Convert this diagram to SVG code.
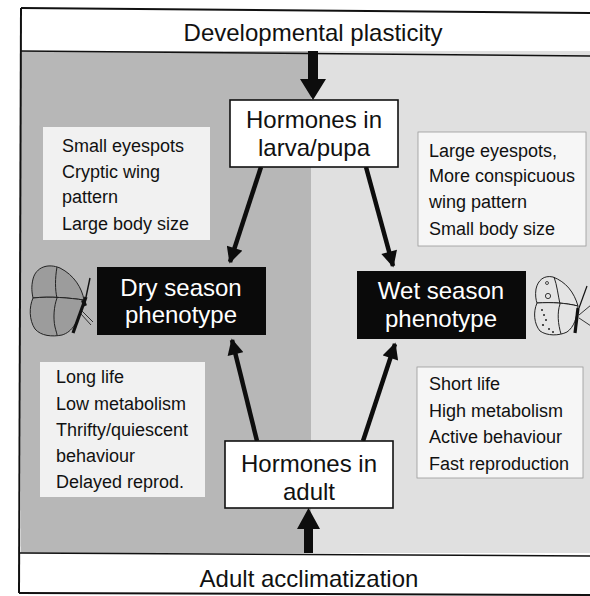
<svg xmlns="http://www.w3.org/2000/svg" width="590" height="596" viewBox="0 0 590 596">
  <defs>
    <style>
      .lbl { font-family: "Liberation Sans", Arial, Helvetica, sans-serif; fill: #111; }
      .band { font-size: 24px; text-anchor: middle; }
      .hub { font-size: 24px; text-anchor: middle; }
      .pheno { font-size: 24px; text-anchor: middle; fill: #fff; }
      .trait { font-size: 18px; }
      .hubbox { fill: #fff; stroke: #111; stroke-width: 1.6; }
      .phenobox { fill: #0a0a0a; }
      .infoL { fill: #f1f1f1; }
      .infoR { fill: #f6f6f6; stroke: #9a9a9a; stroke-width: 0.8; }
      .conn { stroke: #0d0d0d; stroke-width: 4.5; fill: none; }
      .wing { stroke: #222; stroke-width: 1; }
      .vein { stroke: #222; stroke-width: 1; fill: none; }
    </style>
    <marker id="head" viewBox="0 0 10 10" refX="9" refY="5" markerWidth="4" markerHeight="3.6" orient="auto" markerUnits="strokeWidth">
      <path d="M0,0 L10,5 L0,10 Z" fill="#0d0d0d"/>
    </marker>
  </defs>

  <!-- paper -->
  <rect x="0" y="0" width="590" height="596" fill="#fff"/>

  <!-- shaded middle field: darker dry side, lighter wet side -->
  <rect x="21" y="51" width="290" height="502" fill="#b7b7b7"/>
  <rect x="311" y="51" width="285" height="502" fill="#e0e0e0"/>

  <!-- frame -->
  <g fill="none" stroke="#111">
    <path d="M21,8 L596,13" stroke-width="2"/>
    <path d="M21,51 L596,56" stroke-width="1.6"/>
    <path d="M20,553 L596,556" stroke-width="1.6"/>
    <path d="M19,593 L596,595" stroke-width="2"/>
    <path d="M21,8 L19,593" stroke-width="2"/>
  </g>

  <!-- band labels -->
  <text class="lbl band" x="313" y="41">Developmental plasticity</text>
  <text class="lbl band" x="309" y="587">Adult acclimatization</text>

  <!-- trait boxes -->
  <g id="dry-morph-traits">
    <rect class="infoL" x="43" y="127" width="167" height="113"/>
    <text class="lbl trait" x="62" y="152">Small eyespots</text>
    <text class="lbl trait" x="62" y="178">Cryptic wing</text>
    <text class="lbl trait" x="62" y="203">pattern</text>
    <text class="lbl trait" x="62" y="230">Large body size</text>
  </g>
  <g id="wet-morph-traits">
    <rect class="infoR" x="418" y="132" width="168" height="114"/>
    <text class="lbl trait" x="429" y="157">Large eyespots,</text>
    <text class="lbl trait" x="429" y="182">More conspicuous</text>
    <text class="lbl trait" x="429" y="208">wing pattern</text>
    <text class="lbl trait" x="429" y="235">Small body size</text>
  </g>
  <g id="dry-physiology">
    <rect class="infoL" x="40" y="362" width="165" height="135"/>
    <text class="lbl trait" x="56" y="383">Long life</text>
    <text class="lbl trait" x="56" y="410">Low metabolism</text>
    <text class="lbl trait" x="56" y="436">Thrifty/quiescent</text>
    <text class="lbl trait" x="56" y="462">behaviour</text>
    <text class="lbl trait" x="56" y="488">Delayed reprod.</text>
  </g>
  <g id="wet-physiology">
    <rect class="infoR" x="417" y="367" width="166" height="111"/>
    <text class="lbl trait" x="429" y="390">Short life</text>
    <text class="lbl trait" x="429" y="417">High metabolism</text>
    <text class="lbl trait" x="429" y="443">Active behaviour</text>
    <text class="lbl trait" x="429" y="470">Fast reproduction</text>
  </g>

  <!-- connectors -->
  <g id="connectors">
    <!-- broad input arrows from the bands -->
    <path d="M308,51 L318,51 L318,79 L326,79 L313,100 L300,79 L308,79 Z" fill="#0d0d0d"/>
    <path d="M304,553 L313,553 L313,529 L320,529 L308.5,508 L297,529 L304,529 Z" fill="#0d0d0d"/>
    <!-- hormone to phenotype arrows -->
    <line class="conn" x1="261" y1="167" x2="230" y2="262" marker-end="url(#head)"/>
    <line class="conn" x1="366" y1="167" x2="393" y2="266" marker-end="url(#head)"/>
    <line class="conn" x1="257" y1="441" x2="232" y2="340" marker-end="url(#head)"/>
    <line class="conn" x1="363" y1="441" x2="395" y2="344" marker-end="url(#head)"/>
  </g>

  <!-- nodes -->
  <g id="hormones-larva">
    <rect class="hubbox" x="230" y="100" width="168" height="67"/>
    <text class="lbl hub" x="314" y="128">Hormones in</text>
    <text class="lbl hub" x="314" y="156">larva/pupa</text>
  </g>
  <g id="hormones-adult">
    <rect class="hubbox" x="225" y="441" width="168" height="67"/>
    <text class="lbl hub" x="309" y="472">Hormones in</text>
    <text class="lbl hub" x="309" y="500">adult</text>
  </g>
  <g id="dry-phenotype">
    <rect class="phenobox" x="97" y="267" width="169" height="68"/>
    <text class="lbl pheno" x="181" y="296">Dry season</text>
    <text class="lbl pheno" x="181" y="323">phenotype</text>
  </g>
  <g id="wet-phenotype">
    <rect class="phenobox" x="357" y="271" width="169" height="68"/>
    <text class="lbl pheno" x="441" y="299">Wet season</text>
    <text class="lbl pheno" x="441" y="327">phenotype</text>
  </g>

  <!-- dry-season butterfly, wings closed -->
  <g id="dry-butterfly">
    <path class="wing" fill="#9c9c9c" d="M84,300 C82,288 74,275 60,268 C48,263 36,267 33,279 C31,287 32,293 33,298 C50,296 70,298 84,300 Z"/>
    <path class="wing" fill="#9c9c9c" d="M33,298 C29,307 29,320 35,329 C41,336 52,337 62,335 C72,332 79,322 84,300 C70,298 50,296 33,298 Z"/>
    <path class="vein" d="M57,267 C55,278 55,290 57,298 C54,306 53,318 55,327 C56,331 57,334 57,335"/>
    <path d="M86,297 L73,333" stroke="#111" stroke-width="3.2" fill="none"/>
    <path d="M86,297 L90,278" stroke="#111" stroke-width="1.4" fill="none"/>
    <path d="M82,311 L93,322 M81,314 L91,325" stroke="#222" stroke-width="0.9" fill="none"/>
    <path d="M83,300 L85,306" stroke="#111" stroke-width="4" fill="none"/>
  </g>

  <!-- wet-season butterfly, with eyespots -->
  <g id="wet-butterfly">
    <path class="wing" fill="#e4e4e4" d="M578,306 C574,292 566,282 553,277 C544,275 538,280 536,289 C535,295 536,300 537,303 C552,302 566,303 578,306 Z"/>
    <path class="wing" fill="#e4e4e4" d="M537,303 C533,312 534,324 540,331 C547,336 559,336 567,332 C574,327 577,318 578,306 C566,303 552,302 537,303 Z"/>
    <path class="vein" d="M554,277 C557,285 558,295 560,304 C557,313 558,324 561,334"/>
    <circle cx="547" cy="283" r="1.5" fill="none" stroke="#222" stroke-width="0.8"/>
    <circle cx="548" cy="296" r="2.6" fill="none" stroke="#222" stroke-width="0.9"/>
    <g fill="#222">
      <circle cx="542" cy="310" r="1"/>
      <circle cx="544" cy="315" r="1"/>
      <circle cx="546" cy="320" r="1"/>
      <circle cx="543" cy="325" r="1.1"/>
      <circle cx="549" cy="329" r="1"/>
      <circle cx="553" cy="332" r="1"/>
    </g>
    <path d="M578,308 L575,333" stroke="#111" stroke-width="3.2" fill="none"/>
    <path d="M579,308 L587,286" stroke="#111" stroke-width="1.2" fill="none"/>
    <path d="M579,315 L591,305 M579,318 L591,326" stroke="#222" stroke-width="0.9" fill="none"/>
  </g>
</svg>
